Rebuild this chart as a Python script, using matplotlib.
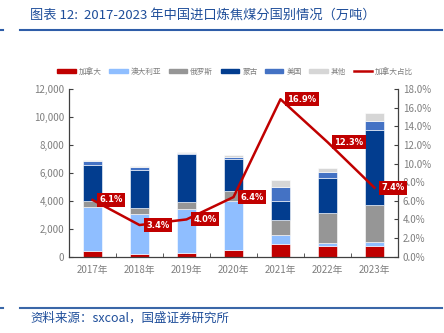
import matplotlib
matplotlib.use("Agg")
from matplotlib import pyplot as plt
from matplotlib.lines import Line2D
from matplotlib.ticker import FuncFormatter, FixedLocator
import numpy as np

plt.rcParams['font.family'] = ['Noto Sans CJK SC', 'DejaVu Sans']

years = ['2017年', '2018年', '2019年', '2020年', '2021年', '2022年', '2023年']
# import volume by country, 10k tonnes
canada = [424, 222, 299, 465, 930, 785, 759]
australia = [3100, 2850, 3080, 3510, 620, 190, 290]
russia = [450, 400, 550, 715, 1070, 2140, 2660]
mongolia = [2600, 2740, 3400, 2310, 1380, 2520, 5360]
usa = [280, 210, 100, 120, 1000, 430, 620]
other = [96, 99, 44, 150, 500, 313, 569]
share = [6.1, 3.4, 4.0, 6.4, 16.9, 12.3, 7.4]

names = ['加拿大', '澳大利亚', '俄罗斯', '蒙古', '美国', '其他']
colors = ['#C00000', '#8FBEFF', '#969696', '#023D8F', '#4472C4', '#D6D6D6']
red = '#C00000'
grey = '#7F7F7F'

fig = plt.figure(figsize=(4.44, 3.33), dpi=100)
ax = fig.add_axes([69 / 444, 1 - 256.7 / 333, 329 / 444, 167.7 / 333])

x = np.arange(len(years))
bottom = np.zeros(len(years))
for vals, name, c in zip([canada, australia, russia, mongolia, usa, other], names, colors):
    ax.bar(x, vals, 0.39, bottom=bottom, color=c, edgecolor='white', linewidth=0.4, label=name)
    bottom += np.array(vals)

ax.set_ylim(0, 12000)
ax.set_xlim(-0.5, 6.5)
ax.set_yticks(np.arange(0, 12001, 2000))
ax.yaxis.set_major_formatter(FuncFormatter(lambda v, p: '{:,.0f}'.format(v)))
ax.set_xticks(x)
ax.set_xticklabels(years)
ax.xaxis.set_minor_locator(FixedLocator(np.arange(0.5, 6.5, 1)))
ax.tick_params(axis='x', which='major', length=0, pad=6, labelsize=7, labelcolor=grey)
ax.tick_params(axis='x', which='minor', length=3, direction='in', color='#404040')
ax.tick_params(axis='y', length=3, direction='in', labelsize=7, labelcolor=grey, color='#404040')
for s in ['top', 'right']:
    ax.spines[s].set_visible(False)
for s in ['left', 'bottom']:
    ax.spines[s].set_color('#404040')
    ax.spines[s].set_linewidth(0.9)

ax2 = ax.twinx()
ax2.plot(x, share, color=red, linewidth=1.8, label='加拿大占比')
ax2.set_ylim(0, 18)
ax2.set_yticks(np.arange(0, 18.1, 2))
ax2.yaxis.set_major_formatter(FuncFormatter(lambda v, p: '{:.1f}%'.format(v)))
ax2.tick_params(axis='y', length=3, direction='in', labelsize=7, labelcolor=grey, color='#404040')
for s in ['top', 'left', 'bottom']:
    ax2.spines[s].set_visible(False)
ax2.spines['right'].set_color('#404040')
ax2.spines['right'].set_linewidth(0.9)

for xi, v in zip(x, share):
    ax2.annotate('{:.1f}%'.format(v), xy=(xi, v), xytext=(5, 0), textcoords='offset points',
                 ha='left', va='center', fontsize=6, fontweight='bold', color='white',
                 family='DejaVu Sans', zorder=5,
                 bbox=dict(boxstyle='square,pad=0.3', fc=red, ec='none'))

# legend across the top
handles = [plt.Rectangle((0, 0), 1, 1, color=c) for c in colors]
handles.append(Line2D([], [], color=red, linewidth=1.8))
fig.legend(handles, names + ['加拿大占比'], loc='center', bbox_to_anchor=(0.53, 1 - 71.5 / 333),
           ncol=7, frameon=False, fontsize=5.5, handlelength=2.4, handleheight=0.35,
           handletextpad=0.4, columnspacing=1.0, labelcolor=grey)

# header and footer
fig.text(30 / 444, 1 - 15 / 333, '图表 12:  2017-2023 年中国进口炼焦煤分国别情况（万吨）',
         fontsize=9.5, color='#1F4E9A', style='italic', va='center')
fig.add_artist(Line2D([20 / 444, 442 / 444], [1 - 30 / 333, 1 - 30 / 333], color='#2E5DA8', linewidth=1.5))
fig.add_artist(Line2D([0, 3 / 444], [1 - 30 / 333, 1 - 30 / 333], color='#2E5DA8', linewidth=1.5))
fig.add_artist(Line2D([20 / 444, 442 / 444], [1 - 308 / 333, 1 - 308 / 333], color='#3A67A8', linewidth=1.5))
fig.add_artist(Line2D([0, 3 / 444], [1 - 308 / 333, 1 - 308 / 333], color='#3A67A8', linewidth=1.5))
fig.text(30 / 444, 1 - 318 / 333, '资料来源：sxcoal，国盛证券研究所',
         fontsize=9, color='#1F4E9A', style='italic', va='center')

fig.savefig('out.png', dpi=100)
